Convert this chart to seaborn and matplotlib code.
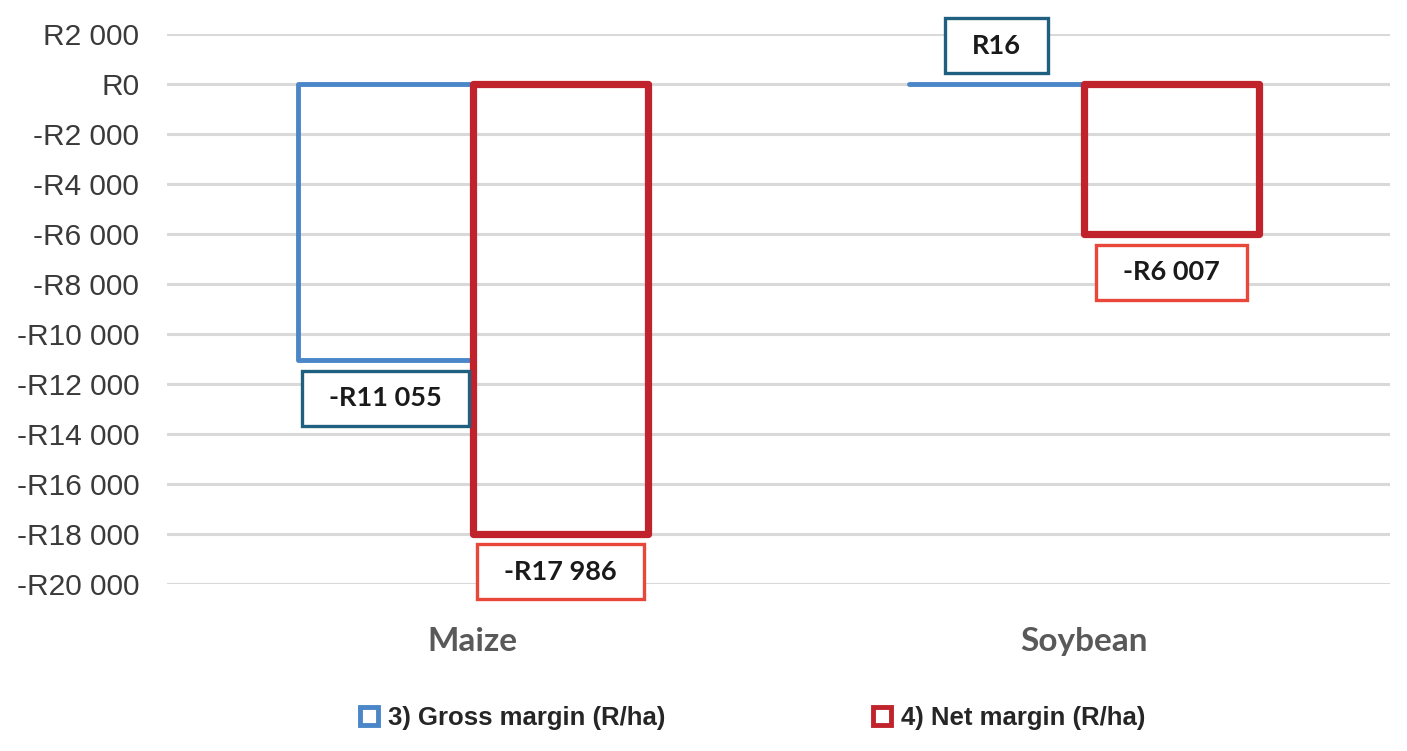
import matplotlib
matplotlib.use("Agg")
import matplotlib.pyplot as plt
import matplotlib.ticker as ticker
from matplotlib.patches import Patch, Rectangle
from matplotlib.transforms import IdentityTransform
import seaborn as sns
import pandas as pd

# data
crops = ["Maize", "Soybean"]
series = ["3) Gross margin (R/ha)", "4) Net margin (R/ha)"]
gross_margin = [-11055, 16]
net_margin = [-17986, -6007]
y_ticks = list(range(-20000, 2001, 2000))

bar_colors = ["#4A86C8", "#C0232B"]
box_colors = ["#1F5F7F", "#E8473A"]


def rand_format(v, pos=None):
    s = f"{abs(int(v)):,}".replace(",", " ")
    return f"-R{s}" if v < 0 else f"R{s}"


df = pd.DataFrame({
    "crop": crops * 2,
    "series": [series[0]] * 2 + [series[1]] * 2,
    "value": gross_margin + net_margin,
})

sns.set_style("white")
plt.rcParams["font.family"] = ["Liberation Sans", "DejaVu Sans"]

fig = plt.figure(figsize=(14.07, 7.51), dpi=100)
ax = fig.add_axes([0.1187, 0.2224, 0.8692, 0.7323])

sns.barplot(
    data=df, x="crop", y="value", hue="series", order=crops, hue_order=series,
    palette=bar_colors, fill=False, width=0.573, linewidth=4, ax=ax,
    legend=False, errorbar=None,
)

# thicker edge on the net margin bars, rounded corners
for cont, lw in zip(ax.containers, [3.5, 5.2]):
    for p in cont:
        p.set_linewidth(lw)
        p.set_joinstyle("round")
        p.set_capstyle("round")

ax.set_ylim(-20000, 2000)
ax.set_xlim(-0.5, 1.5)
ax.set_yticks(y_ticks)
ax.yaxis.set_major_formatter(ticker.FuncFormatter(rand_format))
ax.grid(axis="y", color="#D9D9D9", linewidth=2.2)
ax.set_axisbelow(True)
for s in ax.spines.values():
    s.set_visible(False)
ax.tick_params(axis="y", length=0, pad=20, labelsize=21.5, labelcolor="#3A3A3A")
ax.tick_params(axis="x", length=0, pad=31)
for lab in ax.get_xticklabels():
    lab.set_fontfamily(["Lato", "DejaVu Sans"])
    lab.set_fontweight("bold")
    lab.set_fontsize(24)
    lab.set_color("#595959")
ax.set_xlabel("")
ax.set_ylabel("")

# value labels in outlined boxes
labels = []
for cont, vals, bc in zip(ax.containers, [gross_margin, net_margin], box_colors):
    for p, v in zip(cont, vals):
        xc = p.get_x() + p.get_width() / 2
        off = 38 if v > 0 else -38
        t = ax.annotate(
            rand_format(v), (xc, v), xytext=(0, off), textcoords="offset pixels",
            ha="center", va="center", fontsize=19.5, fontweight="bold",
            fontfamily=["Lato", "DejaVu Sans"], color="#1A1A1A",
            annotation_clip=False, zorder=6,
        )
        labels.append((t, bc))

fig.canvas.draw()
renderer = fig.canvas.get_renderer()
for t, bc in labels:
    bb = t.get_window_extent(renderer)
    cx, cy = (bb.x0 + bb.x1) / 2, (bb.y0 + bb.y1) / 2
    w, h = bb.width + 54, 55
    ax.add_patch(Rectangle(
        (cx - w / 2, cy - h / 2), w, h, transform=IdentityTransform(),
        facecolor="white", edgecolor=bc, linewidth=2.4, zorder=5, clip_on=False,
    ))

handles = [Patch(facecolor="white", edgecolor=c, linewidth=3.5) for c in bar_colors]
leg = fig.legend(
    handles, series, loc="center", bbox_to_anchor=(0.535, 0.044), ncol=2,
    frameon=False, handlelength=0.7, handleheight=0.7, handletextpad=0.4,
    columnspacing=8.05, prop={"size": 18.5, "weight": "bold"},
)

fig.savefig("out.png", dpi=100)
